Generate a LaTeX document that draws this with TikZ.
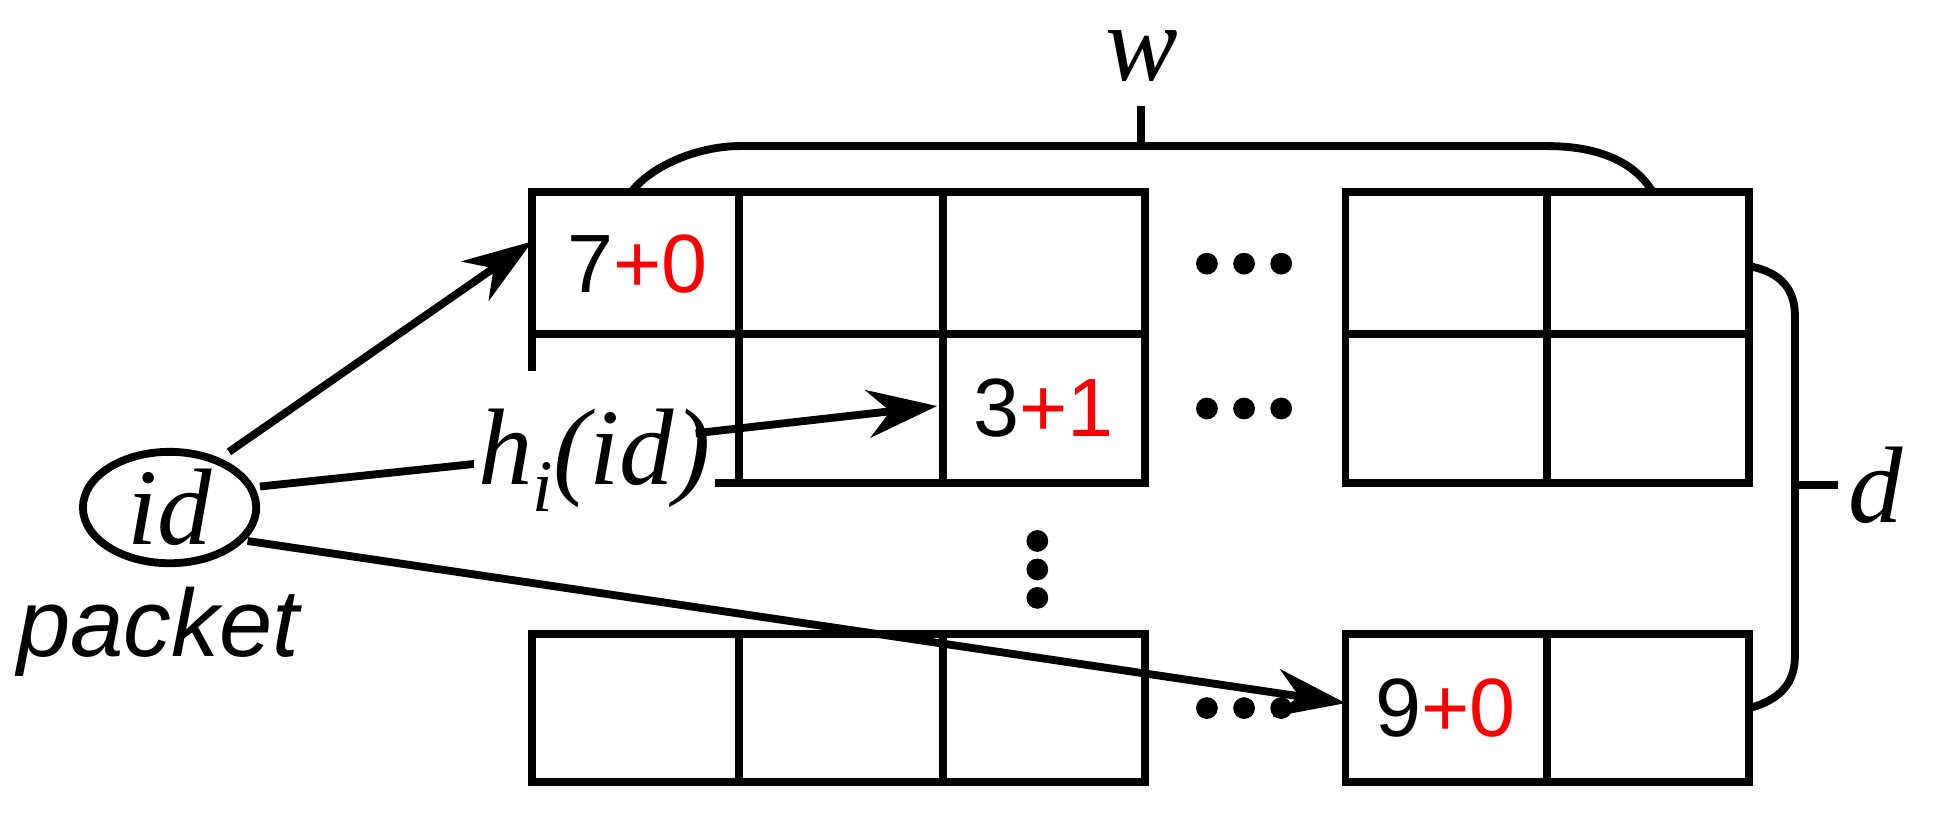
\documentclass[tikz,border=0pt]{standalone}
\usepackage{fontspec}
\newfontfamily\myss{Liberation Sans}
\newfontfamily\myrm{Liberation Serif}
\usetikzlibrary{arrows.meta}
\begin{document}
\begin{tikzpicture}[x=0.01cm,y=-0.01cm,line width=1.8pt,
  arr/.style={-{Stealth[length=16pt,width=11pt]}},
  num/.style={font=\myss\fontsize{19}{20}\selectfont,inner sep=0},
  dot/.style={circle,fill=black,inner sep=0,minimum size=5pt},
  mathlbl/.style={font=\myrm\itshape\fontsize{25}{26}\selectfont,inner sep=1pt}]
\useasboundingbox (0,0) rectangle (1568,669);
% top block left part
\draw (430,300) -- (430,155) -- (925,155) -- (925,390) -- (570,390);
\draw (430,270) -- (925,270);
\draw (597,155) -- (597,390);
\draw (762,155) -- (762,390);
% top right block
\draw (1087,155) rectangle (1413,390);
\draw (1087,270) -- (1413,270);
\draw (1250,155) -- (1250,390);
% bottom blocks
\draw (430,512) rectangle (925,632);
\draw (597,512) -- (597,632);
\draw (762,512) -- (762,632);
\draw (1087,512) rectangle (1413,632);
\draw (1250,512) -- (1250,632);
% dots
\foreach \y [count=\r] in {213,330,572}{
  \foreach \x [count=\c] in {975,1005,1035}{\node[dot] (h\r\c) at (\x,\y) {};}}
\foreach \y [count=\c] in {437,460,483}{\node[dot] (v\c) at (838,\y) {};}
% braces
\draw (510,155) .. controls (530,130) and (570,118) .. (597,118) -- (1250,118) .. controls (1290,118) and (1320,130) .. (1335,155);
\draw (922,118) -- (922,86);
\node[mathlbl] (w) at (922,45) {w};
\draw (1413,215) .. controls (1440,220) and (1450,235) .. (1450,255) -- (1450,530) .. controls (1450,550) and (1440,565) .. (1413,572);
\draw (1450,392) -- (1485,392);
\node[mathlbl] (d) at (1515,392) {d};
% cells text
\node[num] (c1) at (515,213) {7\textcolor{red}{+0}};
\node[num] (c2) at (843,330) {3\textcolor{red}{+1}};
\node[num] (c3) at (1168,572) {9\textcolor{red}{+0}};
% id
\draw (137,410) ellipse (70 and 45);
\node[mathlbl] (id) at (137,410) {id};
\node[font=\myss\itshape\fontsize{22}{24}\selectfont] (pk) at (128,510) {packet};
\coordinate (t1) at (430,195);
\coordinate (t2) at (757,328);
\coordinate (t3) at (1087,568);
\draw[arr] (185,365) -- (t1);
\draw (210,393) -- (400,373);
\node[mathlbl,fill=white] (h) at (480,372) {h\raisebox{-0.25em}{\fontsize{17}{17}\selectfont i}(id)};
\draw[arr] (562,350) -- (t2);
\draw[arr] (200,437) -- (t3);
\end{tikzpicture}
\end{document}
